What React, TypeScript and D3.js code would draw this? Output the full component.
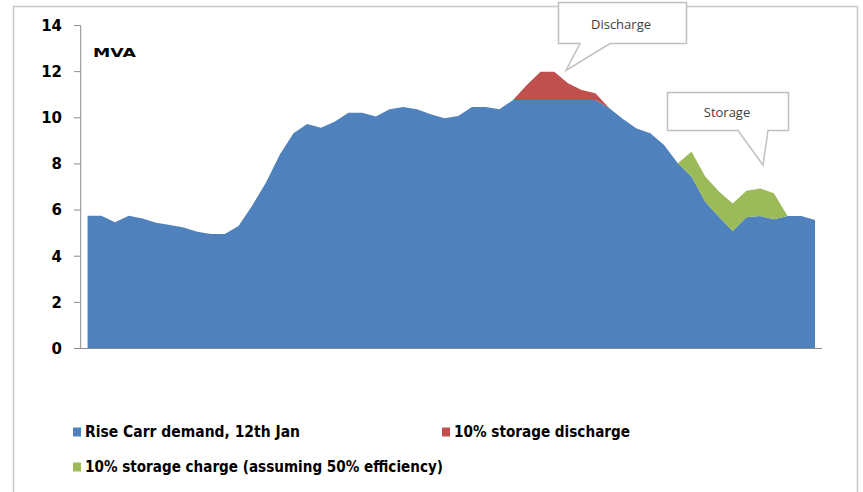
import React from "react";
import * as d3 from "d3";

// Half-hourly demand (MVA), displayed blue portion (capped during peak)
const demand: number[] = [
  5.75, 5.75, 5.47, 5.75, 5.64, 5.45, 5.35, 5.25, 5.06, 4.96, 4.96, 5.31,
  6.2, 7.2, 8.4, 9.33,
  9.73, 9.57, 9.83, 10.22, 10.22, 10.06, 10.37, 10.47, 10.37, 10.15, 9.98, 10.08, 10.47, 10.47, 10.37, 10.77,
  10.77, 10.77, 10.77, 10.77, 10.77, 10.77,
  10.42, 9.95, 9.54, 9.33, 8.82, 8.03, 7.45, 6.36, 5.71, 5.09, 5.69, 5.74, 5.6, 5.74, 5.74, 5.57,
];
// 10% storage discharge, stacked on top of demand
const discharge: number[] = demand.map(() => 0);
const dischargeIdx: number[] = [31, 32, 33, 34, 35, 36, 37, 38];
const dischargeVals: number[] = [0, 0.65, 1.23, 1.23, 0.73, 0.43, 0.29, 0];
dischargeIdx.forEach((k, j) => (discharge[k] = dischargeVals[j]));
// 10% storage charge, stacked on top of demand
const charge: number[] = demand.map(() => 0);
const chargeIdx: number[] = [43, 44, 45, 46, 47, 48, 49, 50, 51];
const chargeVals: number[] = [0, 1.08, 1.09, 1.09, 1.2, 1.15, 1.2, 1.13, 0];
chargeIdx.forEach((k, j) => (charge[k] = chargeVals[j]));

const yTicks: number[] = [0, 2, 4, 6, 8, 10, 12, 14];
const legendLabels: string[] = [
  "Rise Carr demand, 12th Jan",
  "10% storage discharge",
  "10% storage charge (assuming 50% efficiency)",
];
const colors = ["#4f81bd", "#c0504d", "#9bbb59"];

export default function App() {
  const W = 863, H = 492;
  const n = demand.length;
  const x = d3.scaleLinear().domain([-0.5, n - 0.5]).range([80.7, 821.9]);
  const y = d3.scaleLinear().domain([0, 14]).range([348.5, 25.5]);
  const idx = d3.range(n);

  const blueArea = d3.area<number>()
    .x((i) => x(i))
    .y0(() => y(0))
    .y1((i) => y(demand[i]))(idx) as string;

  const dMin = d3.min(dischargeIdx)!, dMax = d3.max(dischargeIdx)!;
  const redArea = d3.area<number>()
    .defined((i) => i >= dMin && i <= dMax)
    .x((i) => x(i))
    .y0((i) => y(demand[i]))
    .y1((i) => y(demand[i] + discharge[i]))(idx) as string;

  const cMin = d3.min(chargeIdx)!, cMax = d3.max(chargeIdx)!;
  const greenArea = d3.area<number>()
    .defined((i) => i >= cMin && i <= cMax)
    .x((i) => x(i))
    .y0((i) => y(demand[i]))
    .y1((i) => y(demand[i] + charge[i]))(idx) as string;

  const axisColor = "#8c8c8c";
  const boldFont = "'DejaVu Sans', Verdana, sans-serif";
  const calloutFont = "'Open Sans', 'Noto Sans', sans-serif";

  return (
    <svg width={W} height={H} style={{ position: "absolute", left: 0, top: 0, background: "#fff" }}>
      {/* outer frame */}
      <path d={`M13.5,${H + 2} V6.5 H857.5 V${H + 2}`} fill="none" stroke="#c8c8c8" strokeWidth={1.5} />

      {/* areas */}
      <path d={blueArea} fill={colors[0]} />
      <path d={redArea} fill={colors[1]} />
      <path d={greenArea} fill={colors[2]} />

      {/* y axis */}
      <line x1={80.7} x2={80.7} y1={y(14)} y2={y(0)} stroke={axisColor} strokeWidth={1} />
      {yTicks.map((t) => (
        <g key={t}>
          <line x1={74} x2={80.7} y1={y(t)} y2={y(t)} stroke={axisColor} strokeWidth={1} />
          <text x={62} y={y(t)} dy="0.36em" textAnchor="end" fontFamily={boldFont} fontWeight="bold" fontSize={15} fill="#000">
            {t}
          </text>
        </g>
      ))}
      {/* x axis */}
      <line x1={80.7} x2={821.9} y1={y(0)} y2={y(0)} stroke={axisColor} strokeWidth={1} />

      <text x={93} y={57} fontFamily={boldFont} fontWeight="900" fontSize={13} textLength={43} lengthAdjust="spacingAndGlyphs" fill="#000">
        MVA
      </text>

      {/* callouts */}
      <path d="M558.5,2.5 H686.5 V43.5 H610 L566,70.5 L580,43.5 H558.5 Z" fill="#fff" stroke="#c0c0c0" strokeWidth={1.5} />
      <text x={621} y={24} dy="0.35em" textAnchor="middle" fontFamily={calloutFont} fontSize={13} fill="#404040">
        Discharge
      </text>
      <path d="M667.5,92.5 H788.5 V130.5 H768 L763,165 L738,130.5 H667.5 Z" fill="#fff" stroke="#c0c0c0" strokeWidth={1.5} />
      <text x={727} y={112} dy="0.35em" textAnchor="middle" fontFamily={calloutFont} fontSize={13} fill="#404040">
        Storage
      </text>

      {/* legend */}
      {[
        { lx: 73, ly: 432, w: 215 },
        { lx: 442, ly: 432, w: 176 },
        { lx: 73, ly: 467, w: 358 },
      ].map((p, i) => (
        <g key={i}>
          <rect x={p.lx} y={p.ly - 4.5} width={8} height={9} fill={colors[i]} />
          <text x={p.lx + 12} y={p.ly} dy="0.36em" fontFamily={boldFont} fontWeight="bold" fontSize={15} textLength={p.w} lengthAdjust="spacingAndGlyphs" fill="#000">
            {legendLabels[i]}
          </text>
        </g>
      ))}
    </svg>
  );
}
